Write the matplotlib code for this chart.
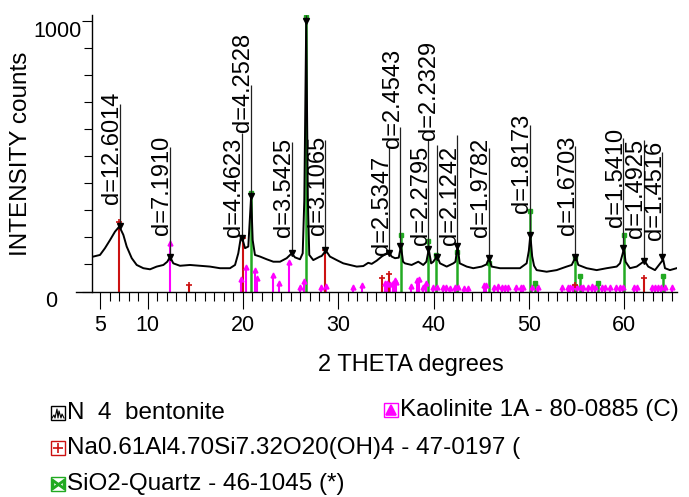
import matplotlib
matplotlib.use("Agg")
import matplotlib.pyplot as plt
from matplotlib.patches import Rectangle
from matplotlib.lines import Line2D

plt.rcParams['font.family'] = ['Liberation Sans', 'DejaVu Sans']

W, H = 689, 497

two_theta = [4.30, 5.00, 5.52, 6.05, 6.57, 7.03, 7.45, 7.80, 8.33, 8.85, 9.55, 10.25,
             10.95, 11.65, 12.06, 12.35, 12.69, 13.39, 14.44, 15.49, 16.54, 17.59,
             18.64, 19.17, 19.51, 19.76, 19.93, 20.22, 20.56, 20.86, 21.02, 21.26,
             21.79, 22.49, 23.19, 23.89, 24.59, 25.12, 25.46, 25.99, 26.27, 26.44,
             26.64, 26.81, 26.96, 27.38, 28.09, 28.26, 28.71, 29.13, 29.84, 30.53,
             31.23, 31.94, 32.63, 33.15, 33.51, 34.04, 34.56, 34.91, 35.39, 35.61,
             35.96, 36.35, 36.58, 36.80, 37.00, 37.70, 38.40, 38.92, 39.25, 39.50,
             39.75, 39.98, 40.36, 40.68, 41.38, 42.08, 42.30, 42.52, 42.75, 43.48,
             44.17, 45.05, 45.55, 45.83, 46.10, 46.97, 48.02, 49.07, 49.77, 50.00,
             50.16, 50.35, 50.55, 50.82, 51.87, 52.92, 53.97, 54.50, 54.93, 55.19,
             56.07, 57.12, 58.17, 59.22, 59.57, 59.85, 59.98, 60.15, 60.61, 61.32,
             62.15, 62.53, 63.24, 64.10, 64.29, 64.81, 65.51]
counts = [129, 135, 160, 190, 221, 240, 209, 166, 123, 98, 86, 82,
          92, 98, 110, 128, 104, 95, 98, 95, 92, 86,
          86, 98, 141, 196, 196, 160, 166, 353, 190, 135,
          129, 119, 110, 110, 123, 141, 126, 119, 141, 338,
          1000, 338, 135, 116, 129, 131, 151, 129, 116, 104,
          98, 92, 94, 106, 102, 114, 129, 137, 141, 129,
          123, 125, 168, 110, 104, 98, 110, 98, 110, 156,
          104, 110, 131, 104, 92, 104, 110, 168, 104, 92,
          86, 92, 100, 123, 92, 86, 86, 86, 104, 150,
          209, 130, 95, 79, 73, 79, 92, 98, 129, 98,
          86, 79, 86, 92, 104, 140, 160, 110, 86, 92,
          113, 92, 79, 118, 86, 79, 86]

# reference patterns
mont_pos = [7.03, 14.34, 19.97, 28.61, 34.56, 35.30, 54.88, 62.12]
mont_int = [258, 24, 196, 153, 51, 63, 24, 51]

qtz_pos = [20.86, 26.64, 36.54, 39.47, 40.30, 42.45, 45.79, 50.14, 50.62,
           54.87, 55.33, 57.24, 59.96, 64.03]
qtz_int = [363, 1015, 209, 188, 135, 147, 107, 298, 33, 129, 57, 33, 209, 57]

kao_pos = [12.38, 19.83, 20.35, 21.23, 21.47, 23.12, 23.78, 24.83, 26.02, 26.37,
           28.20, 28.71, 31.51, 32.46, 34.91, 35.08, 35.43, 35.78, 35.96, 36.06,
           37.60, 38.30, 38.51, 38.93, 39.17, 39.98, 40.33, 41.03, 41.31, 41.73,
           42.25, 42.60, 43.20, 43.65, 45.29, 45.50, 46.34, 46.80, 47.15, 47.50,
           47.85, 48.62, 49.18, 49.42, 50.30, 51.00, 53.51, 54.14, 54.32, 54.67,
           55.02, 55.44, 55.72, 56.24, 56.66, 56.94, 57.71, 57.99, 58.52, 59.11,
           59.57, 59.91, 61.03, 61.38, 62.89, 63.24, 63.59, 63.87, 64.29, 64.99]
kao_int = [180, 45, 92, 79, 49, 61, 33, 110, 15, 40,
           18, 19, 15, 24, 30, 30, 27, 33, 42, 36,
           21, 42, 45, 18, 33, 15, 15, 18, 15, 14,
           18, 18, 14, 14, 24, 24, 18, 21, 15, 15,
           15, 15, 18, 18, 15, 18, 15, 15, 18, 21,
           18, 15, 15, 15, 21, 15, 15, 15, 15, 15,
           18, 18, 15, 15, 15, 15, 15, 15, 15, 15]

# labelled peaks
lab_d = ['12.6014', '7.1910', '4.4623', '4.2528', '3.5425', '3.1065', '2.5347',
         '2.4543', '2.2795', '2.2329', '2.1242', '1.9782', '1.8173', '1.6703',
         '1.5410', '1.4925', '1.4516']
lab_pos = [7.05, 12.33, 19.87, 20.83, 25.12, 28.63, 35.37, 36.53, 39.44, 40.34,
           42.46, 45.78, 50.08, 54.87, 59.88, 62.04, 63.97]
lab_int = [242, 129, 199, 353, 141, 153, 141, 168, 156, 129, 168, 123, 209, 129,
           160, 113, 129]
# label layout: text base and line top (counts)
lab_base = [323, 209, 200, 590, 202, 209, 135, 529, 172, 560, 172, 202, 289, 209,
            239, 197, 190]
lab_top = [692, 535, 585, 763, 553, 560, 535, 609, 560, 541, 578, 529, 615, 537,
           566, 560, 516]

x_labels = [5, 10, 20, 30, 40, 50, 60]

RED = '#cc1111'
GREEN = '#22aa22'
MAG = '#ff00ff'

fig = plt.figure(figsize=(W / 100, H / 100), dpi=100)
ax = fig.add_axes([76 / W, 1 - 291.5 / H, 601 / W, 276.5 / H])
ax.set_xlim(2.48, 65.55)
ax.set_ylim(0, 1021)

# sticks
ax.vlines(kao_pos, 0, kao_int, color=MAG, lw=1.5, zorder=2)
ax.plot(kao_pos, kao_int, ls='none', marker='^', ms=3.5, color=MAG, zorder=3)
ax.vlines(mont_pos, 0, mont_int, color=RED, lw=1.5, zorder=2)
ax.plot(mont_pos, mont_int, ls='none', marker='+', ms=5, mew=1.2, color=RED, zorder=3)
ax.vlines(qtz_pos, 0, qtz_int, color=GREEN, lw=1.8, zorder=2)
ax.plot(qtz_pos, qtz_int, ls='none', marker='s', ms=3, color=GREEN, zorder=3)

# pattern
ax.plot(two_theta, counts, color='black', lw=1.4, zorder=4)

# peak label lines and text
ax.vlines(lab_pos, lab_int, lab_top, color='#222222', lw=0.9, zorder=5)
ax.vlines([26.64], 997, 1021, color='#222222', lw=0.9, zorder=5, clip_on=False)
ax.plot(lab_pos + [26.64], lab_int + [997], ls='none', marker='v', ms=4,
        color='black', zorder=6)
for d, x, yb in zip(lab_d, lab_pos, lab_base):
    ax.text(x - 0.15, yb, 'd=' + d, rotation=90, rotation_mode='anchor',
            ha='left', va='baseline', fontsize=17, color='black', zorder=7)

# axes styling
for s in ['top', 'right']:
    ax.spines[s].set_visible(False)
ax.spines['left'].set_position(('data', 4.16))
ax.spines['left'].set_linewidth(1.0)
ax.spines['bottom'].set_linewidth(1.0)

ax.set_xticks(x_labels)
ax.set_xticks([v for v in range(5, 66) if v not in x_labels], minor=True)
ax.tick_params(axis='x', which='major', direction='out', length=12, width=0.8,
               labelsize=15.5, pad=5)
ax.tick_params(axis='x', which='minor', direction='out', length=6.5, width=0.8)
ax.set_yticks([0, 1000])
ax.set_yticklabels(['', '1000'])
ax.set_yticks(range(100, 1000, 100), minor=True)
ax.tick_params(axis='y', which='major', direction='out', length=7.5, width=0.8,
               labelsize=15.5, pad=0)
ax.tick_params(axis='y', which='minor', direction='out', length=6, width=0.8)
for lbl in ax.get_yticklabels():
    lbl.set_va('top')


def fx(px):
    return px / W


def fy(py):
    return 1 - py / H


fig.text(fx(57), fy(291), '0', ha='right', va='top', fontsize=15.5)
fig.text(fx(21.5), fy(153.5), 'INTENSITY counts', rotation=90, ha='center',
         va='center', fontsize=17.5)
fig.text(fx(411), fy(365), '2 THETA degrees', ha='center', va='center', fontsize=17)

# legend
leg_items = [
    (51, 413, 'N  4  bentonite', 'black', 'trace'),
    (384, 410, 'Kaolinite 1A - 80-0885 (C)', MAG, '^'),
    (51, 448, 'Na0.61Al4.70Si7.32O20(OH)4 - 47-0197 (', RED, '+'),
    (51, 484, 'SiO2-Quartz - 46-1045 (*)', GREEN, 'bowtie'),
]
for x0, yc, txt, col, mk in leg_items:
    box = Rectangle((fx(x0), fy(yc + 7)), 14 / W, 14 / H, transform=fig.transFigure,
                    fill=False, edgecolor=col, lw=1.0)
    fig.add_artist(box)
    cx, cy = x0 + 7, yc
    if mk == 'trace':
        xs = [x0 + 1, x0 + 3, x0 + 4, x0 + 6, x0 + 7, x0 + 8, x0 + 10, x0 + 11, x0 + 13]
        ys = [yc + 5, yc + 2, yc + 5, yc - 4, yc + 5, yc - 2, yc + 5, yc + 1, yc + 5]
        fig.add_artist(Line2D([fx(v) for v in xs], [fy(v) for v in ys],
                              transform=fig.transFigure, color='black', lw=0.8))
    elif mk == 'bowtie':
        fig.add_artist(Line2D([fx(cx)], [fy(cy)], transform=fig.transFigure,
                              marker='$\u22c8$', ms=9, color=col, ls='none'))
    else:
        fig.add_artist(Line2D([fx(cx)], [fy(cy)], transform=fig.transFigure,
                              marker=mk, ms=7, mew=1.2, color=col, ls='none'))
    fig.text(fx(x0 + 16), fy(yc), txt, ha='left', va='center', fontsize=17.5)

fig.savefig('out.png', dpi=100)
